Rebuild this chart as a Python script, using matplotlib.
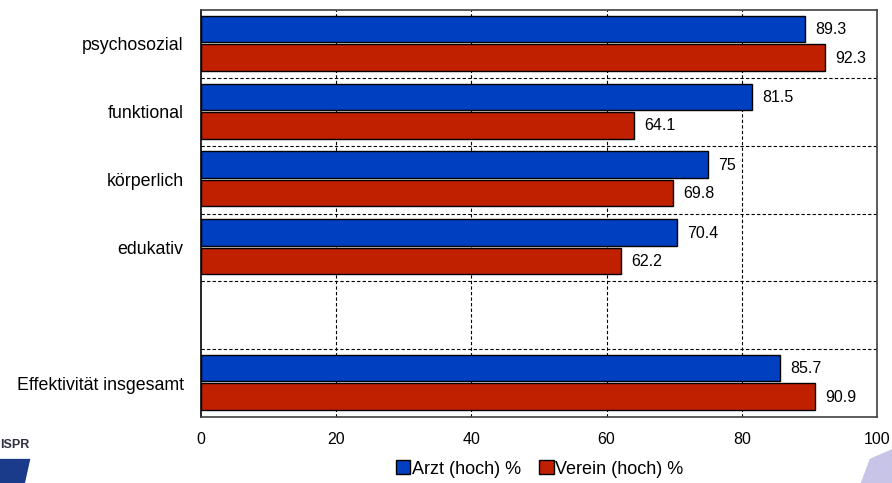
import numpy as np
import matplotlib.pyplot as plt
from matplotlib.patches import Patch, Polygon

plt.rcParams['font.family'] = ['Liberation Sans', 'DejaVu Sans']

categories = ["psychosozial", "funktional", "körperlich", "edukativ", "", "Effektivität insgesamt"]
arzt = [89.3, 81.5, 75, 70.4, np.nan, 85.7]
verein = [92.3, 64.1, 69.8, 62.2, np.nan, 90.9]
x_ticks = [0, 20, 40, 60, 80, 100]

blue = "#0040c0"
red = "#c02000"

fig = plt.figure(figsize=(8.92, 4.83), dpi=100)
ax = fig.add_axes([0.2253, 0.1366, 0.7579, 0.8427])

pos = np.arange(len(categories))
h = 0.39
off = 0.21

ax.barh(pos - off - 0.01, arzt, height=h, color=blue, edgecolor="black", linewidth=1.0, zorder=3)
ax.barh(pos + off - 0.01, verein, height=h, color=red, edgecolor="black", linewidth=1.0, zorder=3)

for p, a, v in zip(pos, arzt, verein):
    if not np.isnan(a):
        ax.text(a + 1.5, p - off, f"{a:g}", va="center", ha="left", fontsize=11.5)
    if not np.isnan(v):
        ax.text(v + 1.5, p + off, f"{v:g}", va="center", ha="left", fontsize=11.5)

# dashed grid: vertical at the ticks, horizontal between the groups
for xv in x_ticks[1:-1]:
    ax.axvline(xv, color="black", linestyle=(0, (3, 2)), linewidth=0.8, zorder=1)
for yv in pos[:-1] + 0.5:
    ax.axhline(yv, color="black", linestyle=(0, (3, 2)), linewidth=0.8, zorder=1)

ax.set_xlim(0, 100)
ax.set_ylim(len(categories) - 0.5, -0.5)
ax.set_xticks(x_ticks)
ax.set_yticks(pos)
ax.set_yticklabels(categories, fontsize=12.8)
ax.tick_params(axis="both", length=0)
ax.tick_params(axis="x", labelsize=11.5, pad=11)
ax.tick_params(axis="y", pad=12.5)

ax.spines["left"].set_color("black")
ax.spines["left"].set_linewidth(1.2)
for s in ["top", "right", "bottom"]:
    ax.spines[s].set_linestyle((0, (2, 1)))
    ax.spines[s].set_color("#404040")
    ax.spines[s].set_linewidth(1.2)

handles = [Patch(facecolor=blue, edgecolor="black", label="Arzt (hoch) %"),
           Patch(facecolor=red, edgecolor="black", label="Verein (hoch) %")]
fig.legend(handles=handles, loc="center", bbox_to_anchor=(0.605, 0.029), ncol=2,
           frameon=False, fontsize=13, handlelength=0.8, handleheight=0.8,
           handletextpad=0.1, columnspacing=1.0)

# small ISPR logo in the lower left corner
fig.text(0.0, 0.078, "ISPR", fontsize=9, fontweight="bold", color="#303040", ha="left", va="center")
fig.patches.append(Polygon([[0.0, 0.0], [0.028, 0.0], [0.034, 0.05], [0.0, 0.05]], closed=True,
                           transform=fig.transFigure, facecolor="#1a3a8a", edgecolor="none"))
# faint mark in the lower right corner
fig.patches.append(Polygon([[0.965, 0.0], [0.975, 0.05], [1.0, 0.07], [1.0, 0.0]], closed=True,
                           transform=fig.transFigure, facecolor="#c8c4e8", edgecolor="none"))

fig.savefig("out.png", dpi=100)
